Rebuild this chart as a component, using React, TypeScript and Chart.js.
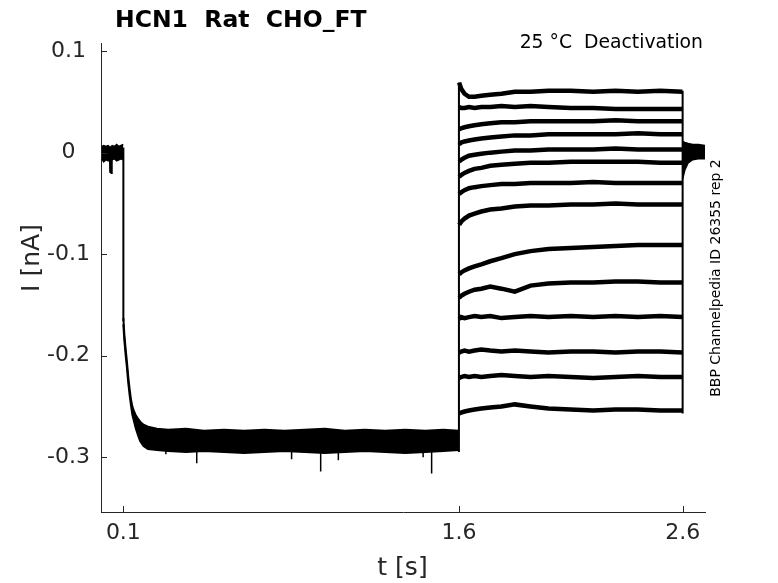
import { useEffect, useRef } from "react";
import { Chart, registerables } from "chart.js";

Chart.register(...registerables);

// ---- axis ticks ----
const xTickValues = [0.1, 1.6, 2.6];
const xTickLabels = ["0.1", "1.6", "2.6"];
const yTickValues = [0.1, 0, -0.1, -0.2, -0.3];
const yTickLabels = ["0.1", "0", "-0.1", "-0.2", "-0.3"];

// ---- texts ----
const titleText = "HCN1  Rat  CHO_FT";
const cornerText = "25 °C  Deactivation";
const sideText = "BBP Channelpedia ID 26355 rep 2";
const xTitle = "t [s]";
const yTitle = "I [nA]";

// ---- holding segment (0 - 0.1 s), noise envelope ----
const holdTimes = [0.003, 0.012, 0.022, 0.032, 0.041, 0.05, 0.06, 0.07, 0.08, 0.09, 0.0995];
const holdUpper = [0.006, 0.007, 0.006, 0.007, 0.005, 0.007, 0.006, 0.008, 0.006, 0.007, 0.008];
const holdLower = [-0.006, -0.009, -0.007, -0.008, -0.006, -0.007, -0.006, -0.008, -0.007, -0.006, -0.007];
const dipTimes = [0.04, 0.041, 0.047, 0.048];
const dipValues = [-0.006, -0.019, -0.02, -0.006];

// ---- common step to -0.28 nA (0.1 - 1.6 s), noise envelope ----
const stepTimes = [0.1, 0.104, 0.11, 0.116, 0.122, 0.128, 0.134, 0.14, 0.148, 0.156, 0.165, 0.175, 0.19, 0.21, 0.25, 0.3, 0.38, 0.46, 0.55, 0.64, 0.73, 0.82, 0.91, 1.0, 1.09, 1.18, 1.27, 1.36, 1.45, 1.53, 1.6];
const stepUpper = [-0.163, -0.178, -0.193, -0.206, -0.221, -0.233, -0.243, -0.25, -0.255, -0.259, -0.262, -0.265, -0.268, -0.27, -0.272, -0.273, -0.272, -0.274, -0.273, -0.274, -0.273, -0.274, -0.273, -0.272, -0.274, -0.273, -0.274, -0.273, -0.274, -0.273, -0.274];
const stepLower = [-0.169, -0.184, -0.199, -0.212, -0.227, -0.239, -0.249, -0.258, -0.265, -0.272, -0.278, -0.284, -0.289, -0.292, -0.293, -0.294, -0.295, -0.294, -0.295, -0.296, -0.295, -0.294, -0.295, -0.296, -0.295, -0.294, -0.295, -0.296, -0.295, -0.294, -0.293];

// downward noise spikes on the -0.28 plateau
const spikeTimes = [0.29, 0.428, 0.852, 0.982, 1.061, 1.44, 1.478];
const spikeFrom = [-0.29, -0.292, -0.292, -0.292, -0.292, -0.292, -0.292];
const spikeTips = [-0.297, -0.306, -0.302, -0.314, -0.303, -0.3, -0.316];

// ---- deactivation sweeps (1.6 - 2.6 s) ----
const postTimes = [1.601, 1.61, 1.625, 1.645, 1.67, 1.7, 1.74, 1.79, 1.85, 1.92, 2.0, 2.1, 2.2, 2.3, 2.4, 2.5, 2.599];
const sweep1 = [0.069, 0.063, 0.058, 0.055, 0.055, 0.056, 0.057, 0.058, 0.06, 0.06, 0.061, 0.061, 0.06, 0.061, 0.06, 0.061, 0.06];
const sweep2 = [0.045, 0.044, 0.044, 0.045, 0.044, 0.045, 0.045, 0.046, 0.045, 0.046, 0.045, 0.044, 0.044, 0.043, 0.043, 0.043, 0.043];
const sweep3 = [0.023, 0.024, 0.025, 0.026, 0.027, 0.028, 0.029, 0.03, 0.03, 0.031, 0.031, 0.031, 0.031, 0.032, 0.031, 0.031, 0.031];
const sweep4 = [0.008, 0.01, 0.011, 0.012, 0.013, 0.014, 0.015, 0.016, 0.017, 0.017, 0.018, 0.018, 0.018, 0.018, 0.019, 0.018, 0.018];
const sweep5 = [-0.009, -0.007, -0.005, -0.003, -0.002, -0.001, 0.0, 0.001, 0.002, 0.002, 0.003, 0.003, 0.003, 0.004, 0.003, 0.003, 0.003];
const sweep6 = [-0.024, -0.022, -0.02, -0.018, -0.016, -0.015, -0.013, -0.012, -0.011, -0.01, -0.01, -0.009, -0.009, -0.009, -0.009, -0.01, -0.01];
const sweep7 = [-0.041, -0.039, -0.037, -0.035, -0.034, -0.033, -0.032, -0.031, -0.031, -0.03, -0.03, -0.03, -0.029, -0.03, -0.03, -0.03, -0.03];
const sweep8 = [-0.071, -0.068, -0.065, -0.062, -0.06, -0.058, -0.056, -0.055, -0.053, -0.052, -0.052, -0.051, -0.051, -0.05, -0.051, -0.051, -0.051];
const sweep9 = [-0.12, -0.118, -0.116, -0.114, -0.112, -0.11, -0.107, -0.104, -0.1, -0.097, -0.095, -0.094, -0.093, -0.092, -0.091, -0.091, -0.091];
const sweep10 = [-0.143, -0.141, -0.139, -0.137, -0.135, -0.134, -0.132, -0.134, -0.137, -0.131, -0.129, -0.128, -0.128, -0.127, -0.127, -0.128, -0.128];
const sweep11 = [-0.164, -0.162, -0.163, -0.162, -0.161, -0.162, -0.161, -0.163, -0.162, -0.161, -0.162, -0.161, -0.162, -0.161, -0.162, -0.161, -0.162];
const sweep12 = [-0.197, -0.196, -0.195, -0.196, -0.195, -0.194, -0.195, -0.196, -0.195, -0.196, -0.197, -0.196, -0.196, -0.197, -0.196, -0.196, -0.197];
const sweep13 = [-0.222, -0.221, -0.22, -0.221, -0.22, -0.221, -0.22, -0.219, -0.22, -0.221, -0.22, -0.221, -0.222, -0.221, -0.22, -0.221, -0.221];
const sweep14 = [-0.257, -0.256, -0.255, -0.254, -0.253, -0.252, -0.251, -0.25, -0.248, -0.25, -0.252, -0.253, -0.254, -0.253, -0.253, -0.254, -0.254];
const sweeps = [sweep1, sweep2, sweep3, sweep4, sweep5, sweep6, sweep7, sweep8, sweep9, sweep10, sweep11, sweep12, sweep13, sweep14];

// ---- return to holding after 2.6 s, noise envelope ----
const endTimes = [2.6, 2.61, 2.625, 2.645, 2.67, 2.7];
const endUpper = [0.011, 0.01, 0.009, 0.008, 0.008, 0.007];
const endLower = [-0.026, -0.017, -0.01, -0.007, -0.006, -0.006];

// ---- voltage-step transitions (vertical jumps) ----
const jumpTimes = [0.1, 1.6, 2.6];
const jumpFrom = [0.005, -0.295, -0.257];
const jumpTo = [-0.166, 0.069, 0.061];

const FONT = '"DejaVu Sans", "Liberation Sans", sans-serif';
const INK = "#000000";
const AXIS = "#262626";

const pts = (xs: number[], ys: number[]) => xs.map((x, i) => ({ x, y: ys[i] }));

const lineDs = (data: any[], width: number, extra: any = {}) => ({
  data,
  showLine: true,
  borderColor: INK,
  backgroundColor: INK,
  borderWidth: width,
  pointRadius: 0,
  pointHoverRadius: 0,
  tension: 0,
  fill: false,
  spanGaps: false,
  ...extra,
});

const decorPlugin = {
  id: "decor",
  afterDraw(chart: any) {
    const { ctx, chartArea, scales } = chart;
    ctx.save();
    // inward tick marks
    ctx.strokeStyle = AXIS;
    ctx.lineWidth = 1;
    xTickValues.forEach((v) => {
      const px = Math.round(scales.x.getPixelForValue(v)) + 0.5;
      ctx.beginPath();
      ctx.moveTo(px, chartArea.bottom);
      ctx.lineTo(px, chartArea.bottom - 6);
      ctx.stroke();
    });
    yTickValues.forEach((v) => {
      const py = Math.round(scales.y.getPixelForValue(v)) + 0.5;
      ctx.beginPath();
      ctx.moveTo(chartArea.left, py);
      ctx.lineTo(chartArea.left + 6, py);
      ctx.stroke();
    });
    // title
    ctx.fillStyle = INK;
    ctx.textBaseline = "alphabetic";
    ctx.textAlign = "left";
    ctx.font = `bold 23.5px ${FONT}`;
    ctx.fillText(titleText, 115, 27);
    // corner annotation
    ctx.font = `18.8px ${FONT}`;
    ctx.textAlign = "right";
    ctx.fillText(cornerText, 703, 48);
    // axis titles
    ctx.fillStyle = AXIS;
    ctx.font = `25px ${FONT}`;
    ctx.textAlign = "center";
    ctx.fillText(xTitle, 402.5, 575);
    ctx.save();
    ctx.translate(39, 258);
    ctx.rotate(-Math.PI / 2);
    ctx.fillText(yTitle, 0, 0);
    ctx.restore();
    // side annotation
    ctx.fillStyle = INK;
    ctx.save();
    ctx.translate(720, 278);
    ctx.rotate(-Math.PI / 2);
    ctx.font = `14px ${FONT}`;
    ctx.textAlign = "center";
    ctx.fillText(sideText, 0, 0);
    ctx.restore();
    ctx.restore();
  },
};

export default function App() {
  const ref = useRef<HTMLCanvasElement>(null);

  useEffect(() => {
    const spikeData: any[] = [];
    spikeTimes.forEach((t, i) => {
      spikeData.push({ x: t, y: spikeFrom[i] }, { x: t, y: spikeTips[i] }, { x: t, y: null });
    });
    const jumpData: any[] = [];
    jumpTimes.forEach((t, i) => {
      jumpData.push({ x: t, y: jumpFrom[i] }, { x: t, y: jumpTo[i] }, { x: t, y: null });
    });

    const datasets: any[] = [
      lineDs(pts(holdTimes, holdUpper), 1.5),
      lineDs(pts(holdTimes, holdLower), 1.5, { fill: "-1" }),
      lineDs(pts(dipTimes, dipValues), 2),
      lineDs(pts(stepTimes, stepUpper), 2),
      lineDs(pts(stepTimes, stepLower), 2, { fill: "-1" }),
      lineDs(spikeData, 1.5),
      ...sweeps.map((s) => lineDs(pts(postTimes, s), 4.5)),
      lineDs(pts(endTimes, endUpper), 1.5),
      lineDs(pts(endTimes, endLower), 1.5, { fill: "-1" }),
      lineDs(jumpData, 2),
    ];

    const chart = new Chart(ref.current as HTMLCanvasElement, {
      type: "scatter",
      data: { datasets },
      options: {
        animation: false,
        responsive: false,
        events: [],
        layout: { padding: { left: 0, top: 43, right: 73, bottom: 0 } },
        plugins: {
          legend: { display: false },
          tooltip: { enabled: false },
          title: { display: false },
        },
        scales: {
          x: {
            type: "linear",
            min: 0,
            max: 2.7,
            afterBuildTicks: (s: any) => {
              s.ticks = xTickValues.map((v) => ({ value: v }));
            },
            afterFit: (s: any) => {
              s.height = 71;
            },
            ticks: {
              autoSkip: false,
              maxRotation: 0,
              padding: 8,
              color: AXIS,
              font: { family: FONT, size: 22 },
              callback: (v: any) => {
                const i = xTickValues.findIndex((t) => Math.abs(t - Number(v)) < 1e-9);
                return i >= 0 ? xTickLabels[i] : "";
              },
            },
            grid: { display: false, drawTicks: false },
            border: { display: true, color: AXIS, width: 1 },
          },
          y: {
            type: "linear",
            min: -0.354,
            max: 0.108,
            afterBuildTicks: (s: any) => {
              s.ticks = yTickValues.map((v) => ({ value: v }));
            },
            afterFit: (s: any) => {
              s.width = 101;
            },
            ticks: {
              autoSkip: false,
              padding: 11,
              crossAlign: "center",
              color: AXIS,
              font: { family: FONT, size: 22 },
              callback: (v: any) => {
                const i = yTickValues.findIndex((t) => Math.abs(t - Number(v)) < 1e-9);
                return i >= 0 ? yTickLabels[i] : "";
              },
            },
            grid: { display: false, drawTicks: false },
            border: { display: true, color: AXIS, width: 1 },
          },
        },
      },
      plugins: [decorPlugin],
    } as any);

    return () => chart.destroy();
  }, []);

  return (
    <div style={{ position: "fixed", left: 0, top: 0, width: 778, height: 583, background: "#fff" }}>
      <canvas ref={ref} width={778} height={583} style={{ display: "block", width: 778, height: 583 }} />
    </div>
  );
}
